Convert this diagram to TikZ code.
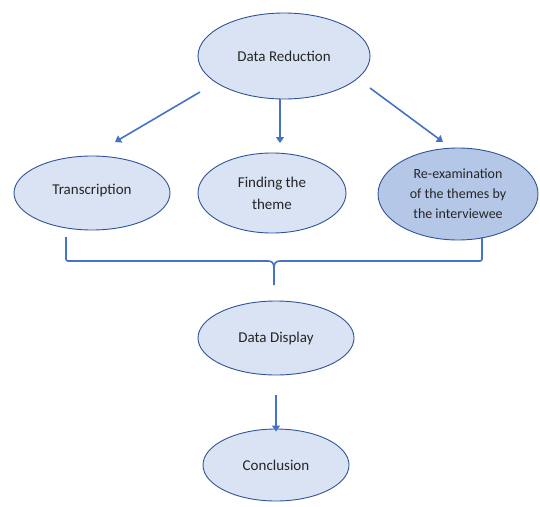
\documentclass[tikz,border=0pt]{standalone}
\usepackage{fontspec}
\setmainfont{Carlito}
\usetikzlibrary{shapes.geometric,arrows.meta}
\definecolor{lightfill}{HTML}{DAE3F3}
\definecolor{darkfill}{HTML}{B4C7E7}
\definecolor{edge}{HTML}{2F5597}
\definecolor{arrowc}{HTML}{4472C4}
\begin{document}
\begin{tikzpicture}[x=1pt,y=-1pt,
  oval/.style={ellipse,draw=edge,line width=0.9pt,fill=lightfill,inner sep=0pt,
    font=\fontsize{15}{22}\selectfont,align=center,text=black!85},
  conn/.style={draw=arrowc,line width=1.6pt,-{Triangle[length=6pt,width=8pt]}},
  bracel/.style={draw=arrowc,line width=1.6pt}]
\useasboundingbox (0,0) rectangle (540,506);
\node[oval,minimum width=172pt,minimum height=86pt] (red) at (284,56) {Data Reduction};
\node[oval,minimum width=156pt,minimum height=74pt] (tra) at (92,193) {\raisebox{7pt}{Transcription}};
\node[oval,minimum width=148pt,minimum height=80pt] (fin) at (272,193) {Finding the\\theme};
\node[oval,fill=darkfill,minimum width=160pt,minimum height=92pt,font=\fontsize{14}{20}\selectfont] (rex) at (458,194) {Re-examination\\of the themes by\\the interviewee};
\node[oval,minimum width=156pt,minimum height=74pt] (dis) at (276,338) {Data Display};
\node[oval,minimum width=146pt,minimum height=72pt] (con) at (276,465) {Conclusion};
\coordinate (a1) at (200,92);
\coordinate (a1e) at (115,142);
\coordinate (a2) at (280,100);
\coordinate (a2e) at (280,143);
\coordinate (a3) at (370,88);
\coordinate (a3e) at (443,142);
\draw[conn] (a1) -- (a1e);
\draw[conn] (red.south -| a2) -- (a2e);
\draw[conn] (a3) -- (a3e);
\coordinate (bl) at (66,237);
\coordinate (br) at (482,237);
\coordinate (bm) at (274,285);
\draw[bracel,rounded corners=2pt] (bl) -- (66,261) -- (268,261);
\draw[bracel,rounded corners=2pt] (br) -- (482,261) -- (280,261);
\draw[bracel] (268,261) .. controls (272,261) and (274,263) .. (274,268) -- (bm);
\draw[bracel] (280,261) .. controls (276,261) and (274,263) .. (274,268);
\draw[conn] (dis.south) ++(0,20) coordinate (d1) -- ([yshift=-3pt]con.north);
\end{tikzpicture}
\end{document}
